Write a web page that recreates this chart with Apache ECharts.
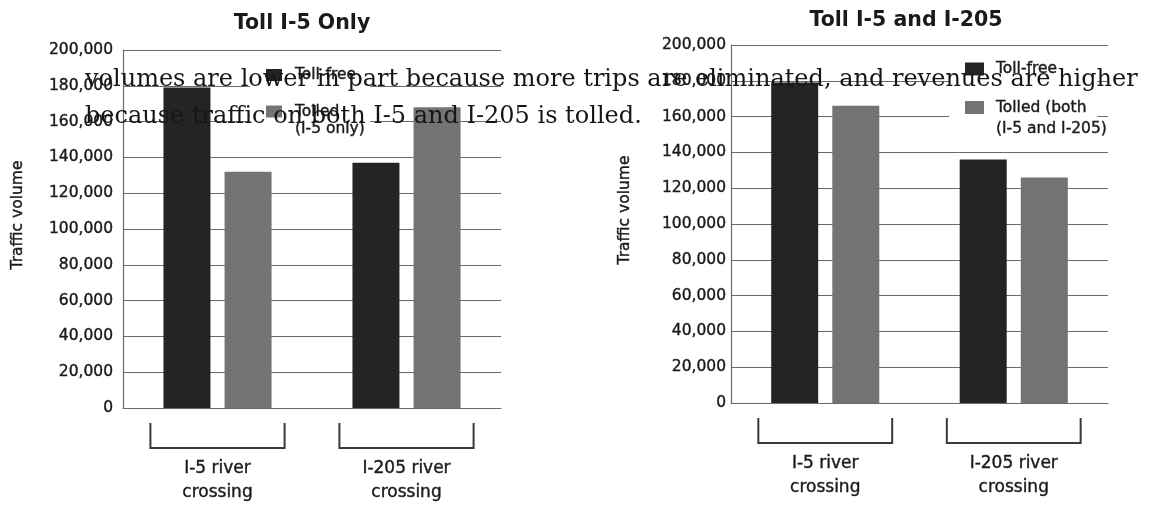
<!DOCTYPE html>
<html>
<head>
<meta charset="utf-8">
<script src="https://cdn.jsdelivr.net/npm/echarts@6/dist/echarts.min.js"></script>
<style>
  html, body { margin: 0; padding: 0; background: #fff; }
  #chart { width: 1153px; height: 506px; }
</style>
</head>
<body>
<div id="chart"></div>
<script>
// crossings on the x axis
const crossings = ['I-5 river\ncrossing', 'I-205 river\ncrossing']

// y axis ticks: 0 .. 200,000 step 20,000
const yMin = 0
const yMax = 200000
const yStep = 20000

// Toll I-5 only
const i5TollFree = [179000, 137000]
const i5Tolled = [132000, 168000]

// Toll I-5 and I-205
const bothTollFree = [179000, 136000]
const bothTolled = [166000, 126000]

const titles = ['Toll I-5 Only', 'Toll I-5 and I-205']
const names = ['Toll-free', 'Tolled (I-5 only)', 'Tolled (both I-5 and I-205)']
// leading blank line keeps the first line level with the legend square
const legendLabels = {
  'Toll-free': 'Toll-free',
  'Tolled (I-5 only)': '\nTolled\n(I-5 only)',
  'Tolled (both I-5 and I-205)': '\nTolled (both\n(I-5 and I-205)'
}

const note1 = 'volumes are lower in part because more trips are eliminated, and revenues are higher'
const note2 = 'because traffic on both I-5 and I-205 is tolled.'

const DARK = '#242424'
const GREY = '#737373'
const INK = '#1a1a1a'
const LINE = '#6a6a6a'
const SANS = 'DejaVu Sans'

const chart = echarts.init(document.getElementById('chart'))

// bracket under each crossing
function bracket(params, api) {
  const base = api.coord([api.value(0), 0])
  const half = api.size([1, 0])[0] * 0.355
  const y1 = base[1] + 15
  const y2 = base[1] + 40
  return {
    type: 'polyline',
    shape: { points: [[base[0] - half, y1], [base[0] - half, y2], [base[0] + half, y2], [base[0] + half, y1]] },
    style: { stroke: '#3a3a3a', lineWidth: 2, fill: null }
  }
}

const heavy = { color: INK, fontFamily: SANS, textBorderColor: INK, textBorderWidth: 0.4 }

function xAxisFor(gridIndex) {
  return {
    type: 'category', gridIndex, data: crossings,
    axisLine: { show: true, lineStyle: { color: LINE, width: 1.2 } },
    axisTick: { show: false },
    axisLabel: Object.assign({ margin: 49, lineHeight: 24, fontSize: 17 }, heavy)
  }
}

function yAxisFor(gridIndex, margin, nameGap) {
  return {
    type: 'value', gridIndex, min: yMin, max: yMax, interval: yStep,
    axisLine: { show: true, lineStyle: { color: LINE, width: 1.2 } },
    axisTick: { show: false },
    splitLine: { lineStyle: { color: LINE, width: 1.2 } },
    axisLabel: Object.assign({ margin, fontSize: 15.5, formatter: v => v.toLocaleString('en-US') }, heavy),
    name: 'Traffic volume', nameLocation: 'middle', nameRotate: 90, nameGap,
    nameTextStyle: Object.assign({ fontSize: 15.5, padding: [0, 0, 0, 28] }, heavy)
  }
}

function bars(name, data, color, idx) {
  return {
    type: 'bar', name, data, xAxisIndex: idx, yAxisIndex: idx,
    barWidth: 47, barGap: '30%', itemStyle: { color }
  }
}

chart.setOption({
  animation: false,
  title: [
    { text: titles[0], left: 297, top: 8, textAlign: 'center',
      textStyle: { fontFamily: SANS, fontWeight: 'bold', fontSize: 20.5, color: INK } },
    { text: titles[1], left: 901, top: 5, textAlign: 'center',
      textStyle: { fontFamily: SANS, fontWeight: 'bold', fontSize: 20.5, color: INK } }
  ],
  legend: [
    { data: [names[0]], left: 250, top: 58, padding: [8, 14, 58, 16], backgroundColor: '#fff',
      itemWidth: 16, itemHeight: 12, icon: 'rect', formatter: n => legendLabels[n],
      textStyle: Object.assign({ fontSize: 15.5, lineHeight: 18, padding: [0, 0, 0, 8] }, heavy) },
    { data: [names[1]], left: 250, top: 86, padding: [0, 14, 4, 16],
      itemWidth: 16, itemHeight: 12, icon: 'rect', formatter: n => legendLabels[n],
      textStyle: Object.assign({ fontSize: 15.5, lineHeight: 17, padding: [0, 0, 0, 8] }, heavy) },
    { data: [names[0]], left: 949, top: 53, padding: [7, 40, 62, 16], backgroundColor: '#fff',
      itemWidth: 19, itemHeight: 13, icon: 'rect', formatter: n => legendLabels[n],
      textStyle: Object.assign({ fontSize: 15.5, lineHeight: 18, padding: [0, 0, 0, 7] }, heavy) },
    { data: [names[2]], left: 949, top: 76, padding: [0, 10, 4, 16],
      itemWidth: 19, itemHeight: 13, icon: 'rect', formatter: n => legendLabels[n],
      textStyle: Object.assign({ fontSize: 15.5, lineHeight: 21, padding: [0, 0, 0, 7] }, heavy) }
  ],
  grid: [
    { left: 123, top: 50, width: 378, height: 358 },
    { left: 731, top: 45, width: 377, height: 358 }
  ],
  xAxis: [xAxisFor(0), xAxisFor(1)],
  yAxis: [yAxisFor(0, 10, 97), yAxisFor(1, 5, 98)],
  series: [
    bars(names[0], i5TollFree, DARK, 0),
    bars(names[1], i5Tolled, GREY, 0),
    bars(names[0], bothTollFree, DARK, 1),
    bars(names[2], bothTolled, GREY, 1),
    { type: 'custom', xAxisIndex: 0, yAxisIndex: 0, silent: true, clip: false,
      renderItem: bracket, data: crossings.map((c, i) => [i, 0]) },
    { type: 'custom', xAxisIndex: 1, yAxisIndex: 1, silent: true, clip: false,
      renderItem: bracket, data: crossings.map((c, i) => [i, 0]) }
  ],
  graphic: [
    { type: 'text', x: 85, y: 80, z: 100,
      style: { text: note1, fontFamily: 'DejaVu Serif', fontSize: 24, fill: '#161616', verticalAlign: 'middle' } },
    { type: 'text', x: 85, y: 117, z: 100,
      style: { text: note2, fontFamily: 'DejaVu Serif', fontSize: 24, fill: '#161616', verticalAlign: 'middle' } }
  ]
})
</script>
</body>
</html>
